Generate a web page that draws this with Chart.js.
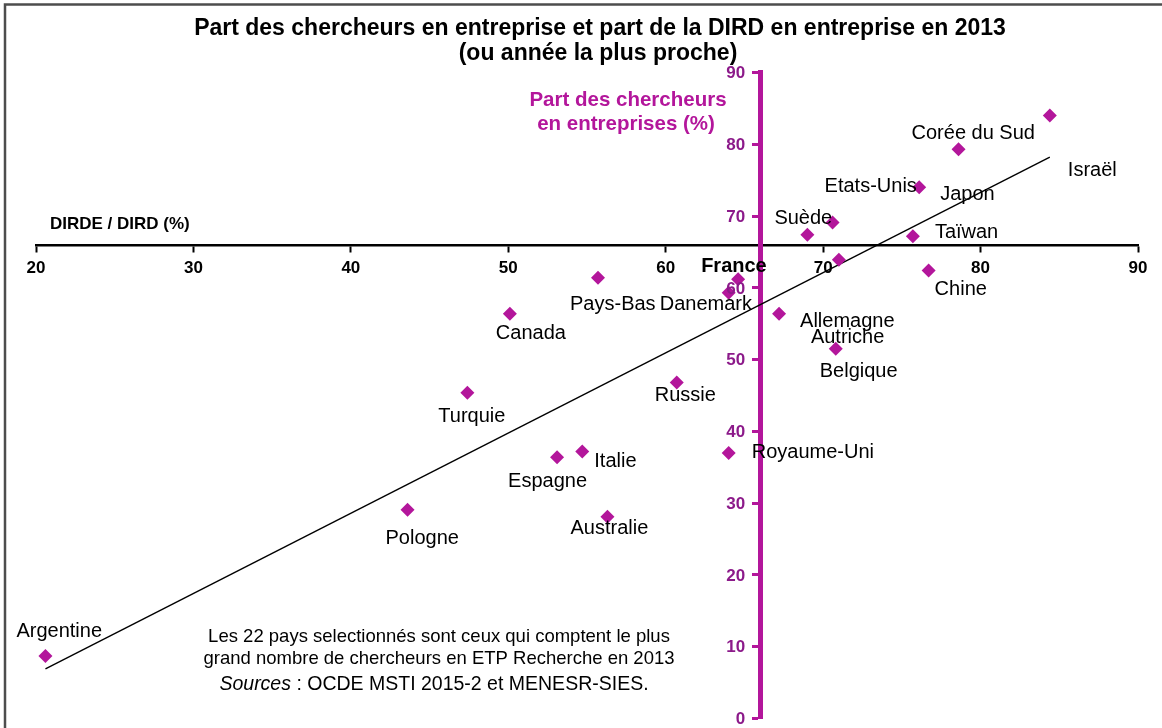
<!DOCTYPE html>
<html>
<head>
<meta charset="utf-8">
<script src="https://cdn.jsdelivr.net/npm/chart.js@4.4.0/dist/chart.umd.min.js"></script>
<style>
  body { margin: 0; background: #fff; }
  #wrap { width: 1162px; height: 728px; }
</style>
</head>
<body>
<div id="wrap"><canvas id="chart" width="1162" height="728"></canvas></div>
<script>
// countries, DIRDE/DIRD (%) and share of researchers in companies (%)
const countries = ['Argentine', 'Pologne', 'Turquie', 'Canada', 'Pays-Bas', 'Danemark', 'France',
  'Espagne', 'Italie', 'Australie', 'Russie', 'Royaume-Uni', 'Allemagne', 'Autriche', 'Belgique',
  'Suède', 'Etats-Unis', 'Japon', 'Corée du Sud', 'Israël', 'Taïwan', 'Chine'];
const dirdeShare = [20.6, 43.6, 47.4, 50.1, 55.7, 64.0, 64.6, 53.1, 54.7, 56.3, 60.7, 64.0, 67.2,
  71.0, 70.8, 69.0, 70.6, 76.1, 78.6, 84.4, 75.7, 76.7];
const researcherShare = [8.7, 29.1, 45.4, 56.4, 61.4, 59.3, 61.2, 36.4, 37.2, 28.1, 46.8, 37.0, 56.4,
  63.9, 51.5, 67.4, 69.1, 74.0, 79.3, 84.0, 67.2, 62.4];

// trend line ends
const trendX = [20.6, 84.4];
const trendY = [6.9, 78.2];

const xTicks = [20, 30, 40, 50, 60, 70, 80, 90];
const yTicks = [0, 10, 20, 30, 40, 50, 60, 70, 80, 90];

// label placement relative to each marker (px): left edge, vertical centre
const labelOffsets = [[-29, -25], [-22, 29], [-29, 24], [-14, 20], [-28, 27], [-69, 12], [-37, -13],
  [-49, 24], [12, 10], [-37, 12], [-22, 13], [23, 0], [21, 8], [-28, 78], [-16, 23],
  [-33, -16], [-8, -36], [21, 7], [-47, -16], [18, 55], [22, -4], [6, 19]];

const MAGENTA = '#B3169B';
const PURPLE = '#8C1A8A';
const FONT = '"Liberation Sans", Arial, sans-serif';

const points = dirdeShare.map((x, i) => ({ x: x, y: researcherShare[i] }));
const trend = trendX.map((x, i) => ({ x: x, y: trendY[i] }));

// y tick labels sit left of the crossing axis, drawn here since chart.js glues them to the line
const yLabels = {
  id: 'yLabels',
  afterDraw(chart) {
    const ctx = chart.ctx;
    const ys = chart.scales.y;
    const axisX = chart.scales.x.getPixelForValue(66);
    ctx.save();
    ctx.fillStyle = PURPLE;
    ctx.font = 'bold 17px ' + FONT;
    ctx.textAlign = 'right';
    ctx.textBaseline = 'middle';
    yTicks.forEach(v => ctx.fillText(String(v), axisX - 15, ys.getPixelForValue(v) + 1));
    ctx.restore();
  }
};

const decor = {
  id: 'decor',
  afterDatasetsDraw(chart) {
    const ctx = chart.ctx;
    ctx.save();

    // frame
    ctx.strokeStyle = '#4d4d4d';
    ctx.lineWidth = 2.5;
    ctx.strokeRect(5, 4.5, 1170, 740);

    // title
    ctx.fillStyle = '#000';
    ctx.textAlign = 'center';
    ctx.textBaseline = 'middle';
    ctx.font = 'bold 23px ' + FONT;
    ctx.fillText('Part des chercheurs en entreprise et part de la DIRD en entreprise en 2013', 600, 29);
    ctx.fillText('(ou année la plus proche)', 598, 54);

    // axis titles
    ctx.fillStyle = MAGENTA;
    ctx.font = 'bold 20.5px ' + FONT;
    ctx.fillText('Part des chercheurs', 628, 100);
    ctx.fillText('en entreprises (%)', 626, 124);

    ctx.fillStyle = '#000';
    ctx.textAlign = 'left';
    ctx.font = 'bold 17px ' + FONT;
    ctx.fillText('DIRDE / DIRD (%)', 50, 224);

    // note
    ctx.textAlign = 'center';
    ctx.font = '18.5px ' + FONT;
    ctx.fillText('Les 22 pays selectionnés sont ceux qui comptent le plus', 439, 637);
    ctx.fillText('grand nombre de chercheurs en ETP Recherche en 2013', 439, 659);
    const a = 'Sources';
    const b = ' : OCDE MSTI 2015-2 et MENESR-SIES.';
    ctx.font = 'italic 19.5px ' + FONT;
    const wa = ctx.measureText(a).width;
    ctx.font = '19.5px ' + FONT;
    const wb = ctx.measureText(b).width;
    const x0 = 434 - (wa + wb) / 2;
    ctx.textAlign = 'left';
    ctx.font = 'italic 19.5px ' + FONT;
    ctx.fillText(a, x0, 685);
    ctx.font = '19.5px ' + FONT;
    ctx.fillText(b, x0 + wa, 685);

    // point labels
    const meta = chart.getDatasetMeta(0);
    meta.data.forEach((el, i) => {
      const name = countries[i];
      ctx.font = (name === 'France' ? 'bold ' : '') + '20px ' + FONT;
      ctx.fillStyle = '#000';
      ctx.fillText(name, el.x + labelOffsets[i][0], el.y + labelOffsets[i][1]);
    });
    ctx.restore();
  }
};

new Chart(document.getElementById('chart'), {
  type: 'scatter',
  data: {
    datasets: [
      {
        label: 'Pays',
        data: points,
        pointStyle: 'rectRot',
        pointRadius: 7,
        pointHoverRadius: 7,
        backgroundColor: MAGENTA,
        borderWidth: 0,
        order: 0
      },
      {
        type: 'line',
        label: 'Tendance',
        data: trend,
        borderColor: '#000',
        borderWidth: 1.4,
        pointRadius: 0,
        fill: false,
        order: 1
      }
    ]
  },
  options: {
    responsive: false,
    animation: false,
    layout: { padding: { left: 36, right: 24, top: 72.5, bottom: 9.5 } },
    plugins: { legend: { display: false }, tooltip: { enabled: false } },
    scales: {
      x: {
        type: 'linear',
        min: 20,
        max: 90,
        position: { y: 66 },
        afterBuildTicks: s => { s.ticks = xTicks.map(v => ({ value: v })); },
        ticks: { color: '#000', font: { family: FONT, size: 17, weight: 'bold' }, padding: 7 },
        grid: { drawOnChartArea: false, tickLength: 6, tickColor: '#000', tickWidth: 2 },
        border: { color: '#000', width: 2.5 }
      },
      y: {
        type: 'linear',
        min: 0,
        max: 90,
        position: { x: 66 },
        afterBuildTicks: s => { s.ticks = yTicks.map(v => ({ value: v })); },
        ticks: { display: false },
        grid: { drawOnChartArea: false, tickLength: 6, tickColor: MAGENTA, tickWidth: 3 },
        border: { color: MAGENTA, width: 5 }
      }
    }
  },
  plugins: [yLabels, decor]
});
</script>
</body>
</html>
